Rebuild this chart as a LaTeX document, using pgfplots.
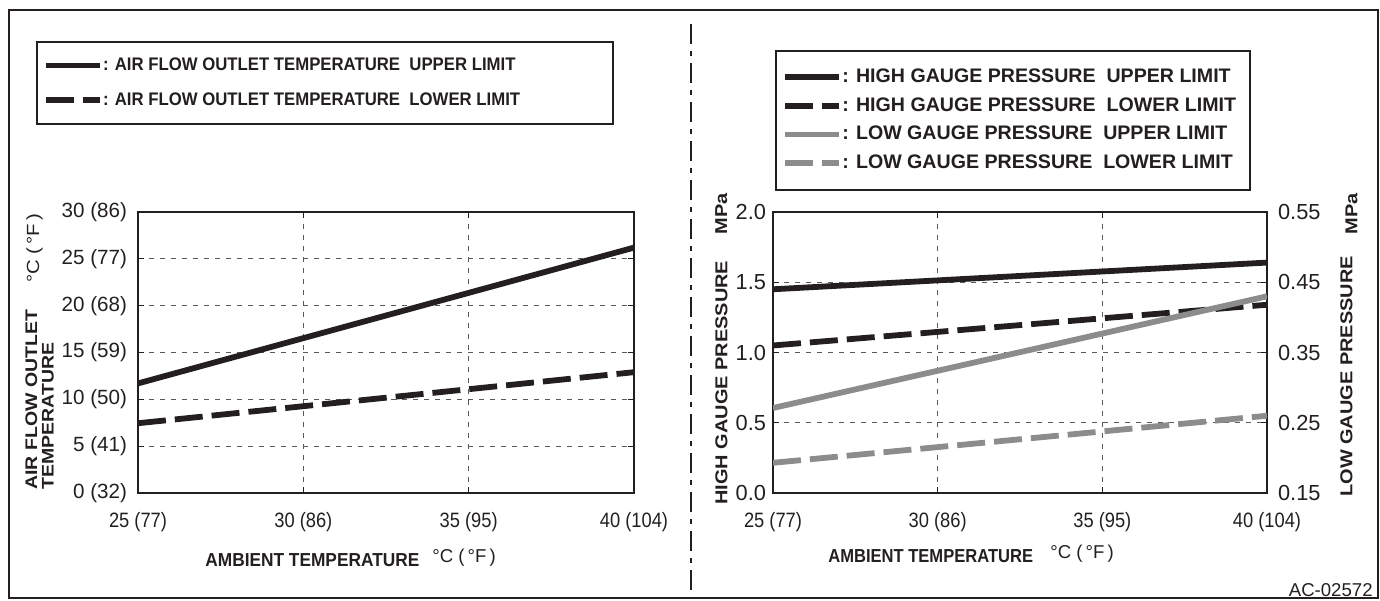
\documentclass[border=0pt]{standalone}
\usepackage{pgfplots}
\pgfplotsset{compat=1.18}
\usepackage{fontspec}
\setmainfont{Liberation Sans}
\newfontfamily\stretched[FakeStretch=1.16]{Liberation Sans}
\newfontfamily\narrowed[FakeStretch=0.88]{Liberation Sans}
\newfontfamily\narrowlabel[FakeStretch=0.92]{Liberation Sans}
\definecolor{lgray}{RGB}{140,140,140}
\definecolor{ink}{RGB}{35,31,32}

% 1 px of the reference = 0.5pt
\pgfplotsset{
  chart/.style={
    scale only axis,
    anchor=south west,
    xmin=25, xmax=40,
    xtick={25,30,35,40},
    xticklabels={25 (77),30 (86),35 (95),40 (104)},
    axis line style={ink, line width=1.4pt},
    major tick style={ink, line width=0.5pt},
    major tick length=3pt,
    grid=major,
    major grid style={black!65, line width=0.5pt, dash pattern=on 2.5pt off 3pt},
    tick label style={text=ink},
    xticklabel style={yshift=-6pt, font=\narrowed\fontsize{10.4}{11}\selectfont},
    yticklabel style={font=\fontsize{10.3}{11}\selectfont},
    /pgf/number format/assume math mode=true,
    legend cell align=left,
    legend style={draw=ink, line width=1pt, fill=white, text=ink,
      nodes={inner xsep=0pt}},
    legend image code/.code={\draw[#1] (0pt,0pt) -- (27pt,0pt);},
  },
  up/.style={ink, line width=2.9pt},
  lo/.style={ink, line width=2.9pt, dash pattern=on 14pt off 4.5pt},
  upg/.style={lgray, line width=2.9pt},
  log/.style={lgray, line width=2.9pt, dash pattern=on 14pt off 4.5pt},
}

\begin{document}
\begin{tikzpicture}
\useasboundingbox (0pt,0pt) rectangle (690pt,-300pt);
\draw[ink, line width=0.7pt] (4.5pt,-5pt) rectangle (689pt,-299pt);
\draw[ink, line width=1.4pt, dash pattern=on 10pt off 3.5pt on 2.5pt off 3.5pt] (345.5pt,-12pt) -- (345.5pt,-296pt);

% ---- left chart ----
\begin{axis}[chart,
  at={(69pt,-246.5pt)},
  width=248pt, height=140.5pt,
  ymin=0, ymax=30,
  ytick={0,5,10,15,20,25,30},
  yticklabels={0 (32),5 (41),10 (50),15 (59),20 (68),25 (77),30 (86)},
  yticklabel style={xshift=-2pt},
  legend style={at={(-0.205,1.61)}, anchor=north west,
    font=\narrowlabel\bfseries\fontsize{9.1}{10}\selectfont,
    inner xsep=3pt, inner ysep=6pt, row sep=5.5pt},
]
\addplot[up] coordinates {(25,11.7) (40,26.2)};
\addlegendentry{\makebox[252pt][l]{: AIR FLOW OUTLET TEMPERATURE\ \ UPPER LIMIT}}
\addplot[lo] coordinates {(25,7.45) (40,12.9)};
\addlegendentry{: AIR FLOW OUTLET TEMPERATURE\ \ LOWER LIMIT}
\end{axis}

% ---- right chart, high gauge pressure ----
\begin{axis}[chart,
  at={(386.5pt,-246.5pt)},
  width=247pt, height=140.5pt,
  ymin=0, ymax=2,
  ytick={0,0.5,1,1.5,2},
  yticklabel style={font=\fontsize{10.9}{12}\selectfont,
    /pgf/number format/.cd, fixed, fixed zerofill, precision=1},
]
\addplot[up] coordinates {(25,1.45) (40,1.64)};
\addplot[lo] coordinates {(25,1.05) (40,1.34)};
\end{axis}

% ---- right chart, low gauge pressure ----
\begin{axis}[chart,
  at={(386.5pt,-246.5pt)},
  width=247pt, height=140.5pt,
  axis x line=none,
  axis y line*=right,
  grid=none,
  ymin=0.15, ymax=0.55,
  ytick={0.15,0.25,0.35,0.45,0.55},
  yticklabel style={xshift=2pt, font=\fontsize{10.9}{12}\selectfont,
    /pgf/number format/.cd, fixed, fixed zerofill, precision=2},
  legend style={at={(0.005,1.577)}, anchor=north west,
    font=\bfseries\fontsize{9.8}{11}\selectfont,
    inner xsep=3pt, inner ysep=7pt, row sep=2pt},
]
\addlegendimage{up}
\addlegendentry{\makebox[201pt][l]{: HIGH GAUGE PRESSURE\ \ UPPER LIMIT}}
\addlegendimage{lo}
\addlegendentry{: HIGH GAUGE PRESSURE\ \ LOWER LIMIT}
\addplot[upg] coordinates {(25,0.271) (40,0.430)};
\addlegendentry{: LOW GAUGE PRESSURE\ \ UPPER LIMIT}
\addplot[log] coordinates {(25,0.193) (40,0.26)};
\addlegendentry{: LOW GAUGE PRESSURE\ \ LOWER LIMIT}
\end{axis}

% ---- axis titles ----
\begin{scope}[every node/.style={text=ink, inner sep=0pt}]
\node[anchor=west, font=\narrowlabel\bfseries\fontsize{9.4}{10}\selectfont] at (102.5pt,-280pt) {AMBIENT TEMPERATURE};
\node[anchor=west, font=\fontsize{9.3}{10}\selectfont] at (216pt,-279pt) {°C\ (\,°F\,)};
\node[anchor=west, font=\narrowed\bfseries\fontsize{9.4}{10}\selectfont] at (414pt,-278pt) {AMBIENT TEMPERATURE};
\node[anchor=west, font=\fontsize{9.3}{10}\selectfont] at (525pt,-277pt) {°C\ (\,°F\,)};
\node[rotate=90, anchor=north west, align=left, font=\stretched\bfseries\fontsize{8.4}{8.2}\selectfont] at (12.5pt,-245pt) {AIR FLOW OUTLET\\TEMPERATURE};
\node[rotate=90, anchor=north west, font=\stretched\fontsize{8.8}{10}\selectfont] at (13pt,-141.5pt) {°C\ (\,°F\,)};
\node[rotate=90, anchor=north west, font=\stretched\bfseries\fontsize{8.6}{10}\selectfont] at (357.5pt,-252.5pt) {HIGH GAUGE PRESSURE};
\node[rotate=90, anchor=north west, font=\stretched\bfseries\fontsize{8.6}{10}\selectfont] at (357.5pt,-117.5pt) {MPa};
\node[rotate=90, anchor=north west, font=\stretched\bfseries\fontsize{8.6}{10}\selectfont] at (670pt,-248.5pt) {LOW GAUGE PRESSURE};
\node[rotate=90, anchor=north west, font=\stretched\bfseries\fontsize{8.6}{10}\selectfont] at (672.5pt,-117.5pt) {MPa};
\node[anchor=south east, font=\fontsize{9.3}{10}\selectfont] at (686.5pt,-298.5pt) {AC-02572};
\end{scope}
\end{tikzpicture}
\end{document}
